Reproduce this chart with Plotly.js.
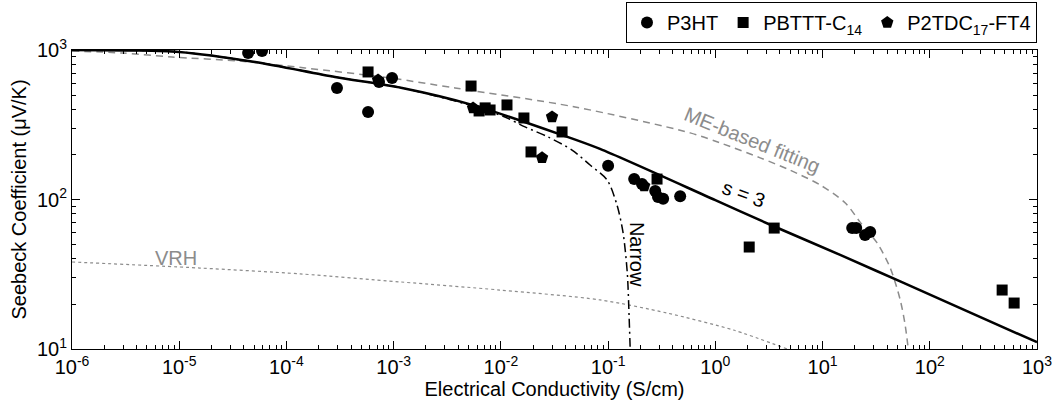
<!DOCTYPE html>
<html><head><meta charset="utf-8">
<script src="https://cdn.plot.ly/plotly-3.0.1.min.js"></script>
<style>html,body{margin:0;padding:0;background:#fff}</style>
</head><body><div id="chart" style="width:1052px;height:400px"></div>
<script>
// Measured data
const p3htX = [4.39e-5, 5.92e-5, 2.96e-4, 5.77e-4, 7.3e-4, 9.66e-4, 0.1, 0.175, 0.207, 0.275, 0.292, 0.326, 0.47, 18.9, 20.6, 24.9, 27.8];
const p3htY = [955, 985, 557, 385, 611, 650, 168, 137, 127, 114, 104, 101, 105, 64.4, 64.4, 57.9, 60.7];
const pbtttX = [5.77e-4, 5.27e-3, 6.26e-3, 7.13e-3, 7.93e-3, 0.0114, 0.0164, 0.0372, 0.0191, 0.286, 3.54, 2.07, 473, 612];
const pbtttY = [713, 574, 391, 410, 397, 429, 351, 283, 208, 137, 64.4, 48.1, 24.8, 20.3];
const p2tdcX = [7.15e-4, 5.5e-3, 0.030, 0.0242, 0.217];
const p2tdcY = [630, 410, 357, 190, 123];

// Model curves
const s3X = [1e-6, 3.48e-6, 1e-5, 5.1e-5, 2.84e-4, 1.2e-3, 5.5e-3, 0.0372, 0.084, 1.0, 3.46, 14.6, 53, 1000];
const s3Y = [1000, 993, 970, 831, 660, 557, 428, 270, 218, 99, 66.5, 42.6, 28.3, 11.1];
const meX = [1e-6, 2.92e-6, 8.57e-6, 3.61e-5, 1.49e-4, 9.25e-4, 3.74e-3, 0.0492, 0.582, 1.11, 2.62, 4.99, 9.51, 16.3, 22.4, 32.3, 42.8, 53, 58.9, 63];
const meY = [985, 955, 898, 844, 758, 650, 557, 416, 279, 239, 190, 157, 125, 94.8, 70.6, 51.2, 34.8, 21.3, 14.5, 10];
const narrowX = [1e-6, 1e-5, 5.1e-5, 2.84e-4, 1.2e-3, 5.5e-3, 0.0109, 0.0168, 0.0276, 0.0461, 0.0679, 0.098, 0.121, 0.138, 0.151, 0.157, 0.1606];
const narrowY = [1000, 970, 831, 660, 557, 422, 356, 306, 262, 214, 170, 135, 91.9, 59.7, 32.2, 16.4, 10];
const vrhX = [1e-6, 1.56e-5, 1.34e-4, 1.15e-3, 9.8e-3, 0.084, 0.355, 1.47, 4.68];
const vrhY = [38.2, 34.8, 31.8, 28.1, 24.8, 21.3, 17.4, 13.4, 10];

const xTickVals = [1e-6, 1e-5, 1e-4, 1e-3, 1e-2, 1e-1, 1, 10, 100, 1000];
const xTickText = ['10<sup>-6</sup>', '10<sup>-5</sup>', '10<sup>-4</sup>', '10<sup>-3</sup>', '10<sup>-2</sup>', '10<sup>-1</sup>', '10<sup>0</sup>', '10<sup>1</sup>', '10<sup>2</sup>', '10<sup>3</sup>'];
const yTickVals = [10, 100, 1000];
const yTickText = ['10<sup>1</sup>', '10<sup>2</sup>', '10<sup>3</sup>'];

const FONT = 'Liberation Sans, Arial, sans-serif';
const FS = 20;

const traces = [
  {x: vrhX, y: vrhY, mode: 'lines', line: {color: '#8c8c8c', width: 1.2, dash: 'dot', shape: 'spline', smoothing: 0.8}, showlegend: false, hoverinfo: 'skip'},
  {x: meX, y: meY, mode: 'lines', line: {color: '#8c8c8c', width: 1.5, dash: '7px,5px', shape: 'spline', smoothing: 0.8}, showlegend: false, hoverinfo: 'skip'},
  {x: narrowX, y: narrowY, mode: 'lines', line: {color: '#000', width: 1.5, dash: '9px,4px,2px,4px', shape: 'spline', smoothing: 0.8}, showlegend: false, hoverinfo: 'skip'},
  {x: s3X, y: s3Y, mode: 'lines', line: {color: '#000', width: 2.5, shape: 'spline', smoothing: 0.8}, showlegend: false, hoverinfo: 'skip'},
  {x: p3htX, y: p3htY, mode: 'markers', name: 'P3HT', marker: {symbol: 'circle', size: 12, color: '#000'}},
  {x: pbtttX, y: pbtttY, mode: 'markers', name: 'PBTTT-C<sub>14</sub>', marker: {symbol: 'square', size: 11, color: '#000'}},
  {x: p2tdcX, y: p2tdcY, mode: 'markers', name: 'P2TDC<sub>17</sub>-FT4', marker: {symbol: 'pentagon', size: 13, color: '#000'}}
];

const axisCommon = {
  type: 'log', showgrid: false, zeroline: false,
  showline: true, linecolor: '#000', linewidth: 1, mirror: 'ticks',
  ticks: 'inside', ticklen: 8, tickcolor: '#000', tickwidth: 1,
  tickmode: 'array', ticklabeloverflow: 'allow',
  tickfont: {family: FONT, size: FS, color: '#000'},
  minor: {ticks: 'inside', ticklen: 4, tickcolor: '#000', tickwidth: 1, dtick: 'D1', showgrid: false}
};

const layout = {
  width: 1052, height: 400,
  margin: {l: 72, r: 15, t: 50, b: 51},
  paper_bgcolor: '#fff', plot_bgcolor: '#fff',
  font: {family: FONT, size: FS, color: '#000'},
  xaxis: Object.assign({}, axisCommon, {
    range: [-6, 3], tickvals: xTickVals, ticktext: xTickText,
    title: {text: 'Electrical Conductivity (S/cm)', font: {family: FONT, size: FS, color: '#000'}, standoff: 0}
  }),
  yaxis: Object.assign({}, axisCommon, {
    range: [1, 3], tickvals: yTickVals, ticktext: yTickText,
    title: {text: 'Seebeck Coefficient (\u03bcV/K)', font: {family: FONT, size: FS, color: '#000'}, standoff: 4}
  }),
  legend: {
    orientation: 'h', xref: 'paper', x: 1, xanchor: 'right',
    yref: 'container', y: 0.995, yanchor: 'top',
    bordercolor: '#000', borderwidth: 1, bgcolor: '#fff',
    font: {family: FONT, size: FS, color: '#000'},
    itemwidth: 30, tracegroupgap: 0
  },
  annotations: [
    {x: Math.log10(9.3e-6), y: 1.609, xref: 'x', yref: 'y', text: 'VRH', showarrow: false, font: {family: FONT, size: FS, color: '#8c8c8c'}},
    {x: 0.343, y: 2.398, xref: 'x', yref: 'y', text: 'ME-based fitting', textangle: 22, showarrow: false, font: {family: FONT, size: FS, color: '#8c8c8c'}},
    {x: 0.269, y: 2.040, xref: 'x', yref: 'y', text: 's = 3', textangle: 20, showarrow: false, font: {family: FONT, size: FS, color: '#000'}},
    {x: -0.729, y: 1.635, xref: 'x', yref: 'y', text: 'Narrow', textangle: 90, showarrow: false, font: {family: FONT, size: FS, color: '#000'}}
  ]
};

Plotly.newPlot('chart', traces, layout, {displayModeBar: false, staticPlot: true});
</script>
</body></html>
